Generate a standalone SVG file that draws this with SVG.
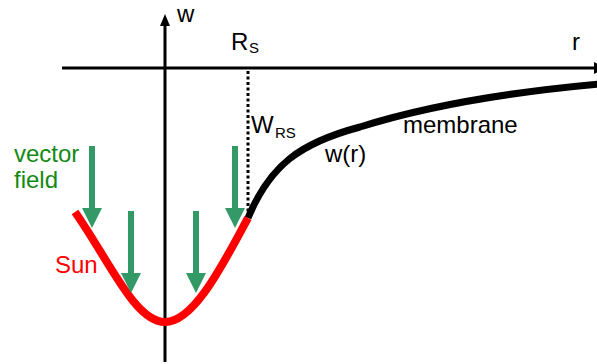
<svg xmlns="http://www.w3.org/2000/svg" width="597" height="364" viewBox="0 0 597 364">
<style>
text{font-family:"Liberation Sans",Arial,sans-serif;font-size:24px;fill:#000}
.sub{font-size:15px}
.green{fill:#138a13}
.red{fill:#ff0000}
.axis{stroke:#000;stroke-width:3;fill:none}
.vf{fill:#339966}
</style>
<rect width="597" height="364" fill="#fff"/>
<g id="axes">
<line class="axis" x1="62" y1="68" x2="595" y2="68"/>
<polygon points="594,62 594,74 606,68" fill="#000"/>
<line class="axis" x1="165" y1="24" x2="165" y2="362"/>
<polygon points="160,26 170,26 165,14" fill="#000"/>
<text x="177" y="22">w</text>
<text x="572" y="50">r</text>
<text x="231" y="50">R<tspan class="sub" x="249" y="53">S</tspan></text>
</g>
<g id="connectors">
<line x1="248" y1="71" x2="248" y2="216" stroke="#000" stroke-width="3" stroke-dasharray="3,2.5"/>
<path id="membrane-curve" d="M 248 218 C 270 165, 300 143, 360 127 C 420 108, 500 93, 599 84" fill="none" stroke="#000" stroke-width="7"/>
<path id="sun-curve" d="M 75 212 C 110 262, 135 322, 165 322 C 195 322, 225 260, 248 218" fill="none" stroke="#ff0000" stroke-width="8"/>
</g>
<g id="labels">
<text x="251" y="133">W<tspan class="sub" x="275" y="138">RS</tspan></text>
<text x="403" y="133">membrane</text>
<text x="325" y="162">w(r)</text>
<text class="green" x="14" y="162">vector</text>
<text class="green" x="14" y="188">field</text>
<text class="red" x="55" y="273">Sun</text>
</g>
<g id="vector-field">
<rect class="vf" x="89" y="146" width="6" height="63"/>
<polygon class="vf" points="82,208 102,208 92,228"/>
<rect class="vf" x="128" y="211" width="6" height="63"/>
<polygon class="vf" points="121,273 141,273 131,293"/>
<rect class="vf" x="193" y="211" width="6" height="63"/>
<polygon class="vf" points="186,273 206,273 196,293"/>
<rect class="vf" x="232" y="146" width="6" height="63"/>
<polygon class="vf" points="225,208 245,208 235,228"/>
</g>
</svg>
